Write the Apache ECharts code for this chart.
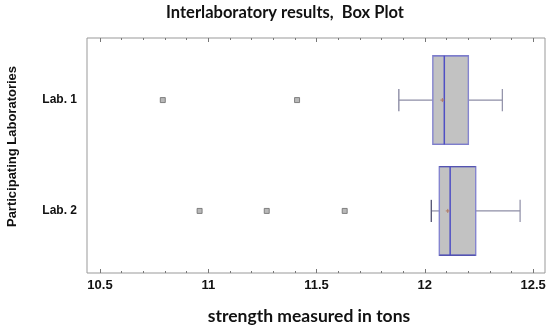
<!DOCTYPE html>
<html>
<head>
<meta charset="utf-8">
<script src="https://cdn.jsdelivr.net/npm/echarts@6/dist/echarts.min.js"></script>
<style>html,body{margin:0;padding:0;background:#fff}#c{width:550px;height:329px}</style>
</head>
<body>
<div id="c"></div>
<script>
// ---- data ----
const labs = ['Lab. 1', 'Lab. 2'];
const labPos = [1, 2];
const whiskerLow = [11.88, 12.03];
const q1 = [12.037, 12.067];
const median = [12.09, 12.117];
const q3 = [12.201, 12.235];
const whiskerHigh = [12.358, 12.44];
const means = [12.081, 12.106];
const outliersLab1 = [10.79, 11.41];
const outliersLab2 = [10.96, 11.27, 11.63];
const xMajorTicks = [10.5, 11, 11.5, 12, 12.5];
const xMinorTicks = [10.6, 10.7, 10.8, 10.9, 11.1, 11.2, 11.3, 11.4, 11.6, 11.7, 11.8, 11.9, 12.1, 12.2, 12.3, 12.4];

const titleText = 'Interlaboratory results,  Box Plot';
const xName = 'strength measured in tons';
const yName = 'Participating Laboratories';

// ---- build ----
const boxData = labs.map((l, i) => [labPos[i], whiskerLow[i], q1[i], median[i], q3[i], whiskerHigh[i], means[i]]);
const outlierData = [];
outliersLab1.forEach(v => outlierData.push([v, labPos[0]]));
outliersLab2.forEach(v => outlierData.push([v, labPos[1]]));

const X_MIN = 10.44, X_MAX = 12.555;

function xAxisDef(position, ticks, len, showLabel) {
  return {
    type: 'value', min: X_MIN, max: X_MAX, position: position,
    axisLine: { show: false },
    splitLine: { show: false },
    axisTick: { show: true, inside: true, length: len, customValues: ticks, lineStyle: { color: '#777', width: 1 } },
    axisLabel: showLabel ? { show: true, customValues: xMajorTicks, margin: 6,
      formatter: v => String(v),
      fontFamily: 'Liberation Sans, Arial, sans-serif', fontWeight: 'bold', fontSize: 13, color: '#111' } : { show: false }
  };
}

const chart = echarts.init(document.getElementById('c'), null, { renderer: 'canvas' });
chart.setOption({
  animation: false,
  backgroundColor: '#fff',
  grid: { left: 87, right: 5, top: 38, bottom: 56, show: true, borderColor: '#999', borderWidth: 1, containLabel: false, outerBoundsMode: 'none' },
  xAxis: [
    xAxisDef('bottom', xMajorTicks, 4, true),
    xAxisDef('bottom', xMinorTicks, 2, false),
    xAxisDef('top', xMajorTicks, 4, false),
    xAxisDef('top', xMinorTicks, 2, false)
  ],
  yAxis: {
    type: 'value', min: 0.44, max: 2.56, inverse: true,
    axisLine: { show: false }, splitLine: { show: false },
    axisTick: { show: false },
    axisLabel: { show: true, customValues: labPos, margin: 10,
      formatter: v => labs[labPos.indexOf(v)] || '',
      fontFamily: 'Liberation Sans, Arial, sans-serif', fontWeight: 'bold', fontSize: 12, color: '#111' }
  },
  graphic: [
    { type: 'text', x: 285, y: 13, style: { text: titleText, textAlign: 'center', textVerticalAlign: 'middle',
      font: 'bold 16.5px Lato, "Open Sans", sans-serif', fill: '#111' } },
    { type: 'text', x: 309, y: 316, style: { text: xName, textAlign: 'center', textVerticalAlign: 'middle',
      font: 'bold 17.5px Lato, "Open Sans", sans-serif', fill: '#111' } },
    { type: 'text', x: 12, y: 146.5, rotation: Math.PI / 2, style: { text: yName, textAlign: 'center', textVerticalAlign: 'middle',
      font: 'bold 13px "Liberation Sans", Arial, sans-serif', fill: '#111' } }
  ],
  series: [
    {
      type: 'custom',
      xAxisIndex: 0, yAxisIndex: 0,
      encode: { x: [1, 2, 3, 4, 5, 6], y: 0 },
      data: boxData,
      renderItem: function (params, api) {
        const y = api.value(0);
        const p = v => api.coord([v, y]);
        const boxHalf = api.size([0, 0.4])[1];
        const capHalf = api.size([0, 0.1])[1];
        const wl = p(api.value(1)), b1 = p(api.value(2)), md = p(api.value(3)), b3 = p(api.value(4)), wh = p(api.value(5)), mn = p(api.value(6));
        const cy = wl[1];
        const whisk = { stroke: '#8e8ea6', lineWidth: 1.2 };
        const edge = params.dataIndex === 1 ? '#5454b0' : '#7d7dcc';
        return {
          type: 'group',
          children: [
            { type: 'line', shape: { x1: wl[0], y1: cy, x2: b1[0], y2: cy }, style: whisk },
            { type: 'line', shape: { x1: b3[0], y1: cy, x2: wh[0], y2: cy }, style: whisk },
            { type: 'line', shape: { x1: wl[0], y1: cy - capHalf, x2: wl[0], y2: cy + capHalf }, style: { stroke: params.dataIndex === 1 ? '#5a5a78' : '#8e8ea6', lineWidth: 1.4 } },
            { type: 'line', shape: { x1: wh[0], y1: cy - capHalf, x2: wh[0], y2: cy + capHalf }, style: whisk },
            { type: 'rect', shape: { x: b1[0], y: cy - boxHalf, width: b3[0] - b1[0], height: 2 * boxHalf },
              style: { fill: '#c2c2c2', stroke: '#8585cf', lineWidth: 1.4 } },
            { type: 'line', shape: { x1: b1[0], y1: cy - boxHalf, x2: b3[0], y2: cy - boxHalf }, style: { stroke: edge, lineWidth: 1.4 } },
            { type: 'line', shape: { x1: b1[0], y1: cy + boxHalf, x2: b3[0], y2: cy + boxHalf }, style: { stroke: edge, lineWidth: 1.4 } },
            { type: 'line', shape: { x1: md[0], y1: cy - boxHalf, x2: md[0], y2: cy + boxHalf }, style: { stroke: '#4f4fc4', lineWidth: 1.5 } },
            { type: 'line', shape: { x1: mn[0] - 2, y1: cy, x2: mn[0] + 2, y2: cy }, style: { stroke: '#b07a66', lineWidth: 1 } },
            { type: 'line', shape: { x1: mn[0], y1: cy - 2, x2: mn[0], y2: cy + 2 }, style: { stroke: '#b07a66', lineWidth: 1 } }
          ]
        };
      }
    },
    {
      type: 'scatter',
      xAxisIndex: 0, yAxisIndex: 0,
      symbol: 'rect', symbolSize: 5,
      itemStyle: { color: '#b8b8b8', borderColor: '#6a6a6a', borderWidth: 0.8, opacity: 1 },
      data: outlierData
    }
  ]
});
</script>
</body>
</html>
